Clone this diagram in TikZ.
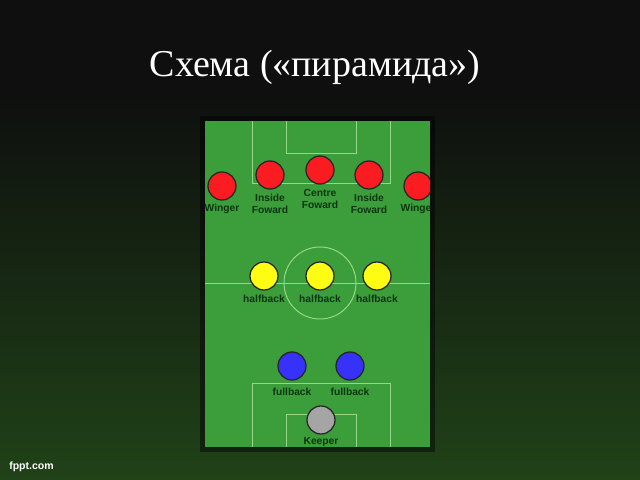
\documentclass[tikz,border=0pt]{standalone}
\usepackage{fontspec}
\setmainfont{Liberation Serif}
\newfontfamily\lblfont{Liberation Sans}
\usetikzlibrary{positioning}

\definecolor{pitch}{RGB}{60,158,58}
\definecolor{pitchline}{RGB}{150,215,140}
\definecolor{lbltext}{RGB}{14,52,20}
\definecolor{grassbot}{RGB}{32,66,24}
\definecolor{topdark}{RGB}{14,15,14}
\definecolor{fwdred}{RGB}{250,28,32}
\definecolor{halfyel}{RGB}{255,252,20}
\definecolor{fullblue}{RGB}{55,50,250}
\definecolor{keepgrey}{RGB}{165,165,165}

\tikzset{
  player/.style={circle, draw=black!85, line width=0.9pt, fill=#1, minimum size=7mm, inner sep=0pt},
  lbl/.style={font=\lblfont\bfseries\fontsize{7.3}{8.5}\selectfont, text=lbltext, align=center, inner sep=0pt},
  fieldline/.style={draw=pitchline, line width=0.7pt}
}

\begin{document}
\begin{tikzpicture}[x=0.025cm, y=-0.025cm]
\useasboundingbox (0,0) rectangle (640,480);
% background
\fill[topdark] (0,0) rectangle (640,480);
\shade[top color=topdark, bottom color=grassbot] (0,90) rectangle (640,480);
\fill[black, opacity=0.45] (200,116) rectangle (435,452);
\fill[pitch] (205,121) rectangle (430,447);
% pitch markings
\draw[fieldline] (252,121) -- (252,183) -- (390,183) -- (390,121);
\draw[fieldline] (286,121) -- (286,153) -- (356,153) -- (356,121);
\draw[fieldline] (205,283) -- (430,283);
\draw[fieldline] (320,283) circle (36);
\draw[fieldline] (252,447) -- (252,383) -- (390,383) -- (390,447);
\draw[fieldline] (286,447) -- (286,414) -- (356,414) -- (356,447);
\begin{scope}
\clip (205,121) rectangle (430,447);
% forwards
\node[player=fwdred] (lw) at (222,186) {};
\node[player=fwdred] (li) at (270,175) {};
\node[player=fwdred] (cf) at (320,170) {};
\node[player=fwdred] (ri) at (369,175) {};
\node[player=fwdred] (rw) at (418,186) {};
\node[lbl, below=2pt of lw] (lwt) {Winger};
\node[lbl, below=3pt of li] (lit) {Inside\\Foward};
\node[lbl, below=3pt of cf] (cft) {Centre\\Foward};
\node[lbl, below=3pt of ri] (rit) {Inside\\Foward};
\node[lbl, below=2pt of rw] (rwt) {Winger};
% halfbacks
\foreach \n/\x in {lh/264, ch/320, rh/377} {
  \node[player=halfyel] (\n) at (\x,276) {};
  \node[lbl, below=3pt of \n] (\n t) {halfback};
}
% fullbacks
\foreach \n/\x in {lb/292, rb/350} {
  \node[player=fullblue] (\n) at (\x,366) {};
  \node[lbl, below=5pt of \n] (\n t) {fullback};
}
% keeper
\node[player=keepgrey] (gk) at (321,420) {};
\node[lbl, below=2pt of gk] (gkt) {Keeper};
\end{scope}
% title and footer
\node[text=white, font=\fontsize{27}{30}\selectfont] (title) at (315,67) {Схема («пирамида»)};
\node[text=white, font=\lblfont\bfseries\fontsize{7.5}{9}\selectfont, anchor=west, inner sep=0pt] (site) at (9,467) {fppt.com};
\end{tikzpicture}
\end{document}
